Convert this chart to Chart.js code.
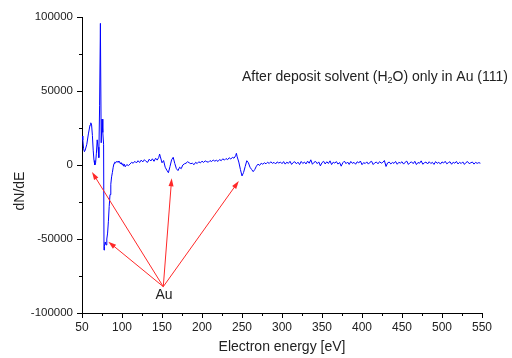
<!DOCTYPE html>
<html>
<head>
<meta charset="utf-8">
<script src="https://cdn.jsdelivr.net/npm/chart.js@4/dist/chart.umd.min.js"></script>
<style>
html, body { margin: 0; padding: 0; background: #fff; }
#wrap { width: 512px; height: 358px; }
</style>
</head>
<body>
<div id="wrap"><canvas id="chart"></canvas></div>
<script>
// Auger spectrum (eV, dN/dE)
const energy = [
  50, 51, 52, 53, 54, 56, 58, 60, 61, 62, 63, 64, 65, 66, 67, 68, 69, 70, 71, 72,
  73, 74, 75, 76, 77, 77.5, 78, 79, 80, 81, 82, 83, 84, 85, 86, 87, 88, 89, 90, 91,
  92, 93, 94, 95, 96, 97, 98, 99, 100, 101, 102, 103, 104, 106, 108,
  110, 112, 114, 116, 118, 120, 122, 124, 126, 128, 130, 132, 134, 136, 138, 140,
  142, 144, 146, 147, 148, 150, 152, 154, 156, 158, 160, 162, 164, 166, 168, 170,
  172, 174, 176, 178, 180, 182, 184, 186, 188, 190, 192, 194, 196, 198, 200,
  202, 204, 206, 208, 210, 212, 214, 216, 218, 220, 222, 224, 226, 228, 230,
  232, 234, 236, 238, 240, 242, 243, 244, 246, 248, 250, 252, 254, 256, 258, 260,
  262, 264, 266, 268,
  270, 272, 274, 276, 278, 280, 282, 284, 286, 288, 290, 292, 294, 296, 298, 300,
  302, 304, 306, 308, 310, 312, 314, 316, 318, 320, 322, 324, 326, 328, 330, 332, 334, 336, 338, 340, 342, 344, 346, 348, 350,
  352, 354, 356, 358, 360, 362, 364, 366, 368, 370, 372, 374, 376, 378, 380, 382, 384, 386, 388, 390, 392, 394, 396, 398, 400,
  402, 404, 406, 408, 410, 412, 414, 416, 418, 420, 422, 424, 426, 428, 430, 432, 434, 436, 438, 440, 442, 444, 446, 448, 450,
  452, 454, 456, 458, 460, 462, 464, 466, 468, 470, 472, 474, 476, 478, 480, 482, 484, 486, 488, 490, 492, 494, 496, 498, 500,
  502, 504, 506, 508, 510, 512, 514, 516, 518, 520, 522, 524, 526, 528, 530, 532, 534, 536, 538, 540, 542, 544, 546, 548
]
const dNdE = [
  19600, 17000, 11000, 9000, 10000, 14000, 21000, 27000, 28500, 27000, 20000, 10000, 3000, 0, 1500, 8000, 17000, 12000, 5000, 40000,
  95700, 15000, 31000, 22000, 14000, -57500, -55000, -52000, -54000, -50000, -46000, -38000, -28000, -20000, -13000, -8000, -5000, -1500, 1000, 2000,
  1500, 2400, 1800, 2600, 1900, 2200, 800, 1600, 200, 900, -800, 500, -1200, 300, -400,
  600, 1800, 1200, 2500, 1400, 2900, 1700, 3300, 2100, 3600, 2400, 1800, 3900, 2700, 4200, 2500,
  4600, 3300, 5200, 7400, 5500, 1500, 3000, -1500, -3500, -5200, -1000, 3500, 5200, 1000, -2500, -3800,
  -1500, -2500, 0, 800, 1200, 2200, 1500, 900, 1200, 200, 1800, 1000, 2200, 1400, 2600,
  1700, 2800, 2200, 1900, 3000, 2300, 3400, 2600, 3200, 2400, 3700, 2900, 4200, 3300, 4400,
  3600, 4900, 4000, 5200, 4600, 6200, 7900, 5500, 2000, -3000, -7400, -5000, -1000, 2900, 1500, -1500,
  -3000, -4500, -3000, -800,
  600, -300, 1200, 500, 1500, 800, 1900, 1000, 2200, 1100, 1800, 700, 2100, 1300, 2000, 900,
  2300, 600, 1900, 1100, 2500, 400, 1700, 2200, 800, 1900, 300, 2400, 1000, 2000, 700, 2600, 1200, 3500, 500, 1800, 2400, 900, 2100, -600, 1600,
  2500, 700, 2200, 1000, 2800, 300, 1900, 1300, 2300, 600, 1700, -800, 1500, 2600, 900, 2000, 400, 2400, 1100, 1800, 500, 2200, 1400, 2700, 200,
  1600, 1000, 2100, 600, 1900, 2500, 300, 1500, 2000, 800, 2300, 1200, 1800, 3000, -1000, 1400, 2000, 700, 1700, 1100, 2400, 500, 1800, 1300, 2200,
  600, 1900, 2600, 400, 1600, 2100, 900, 2500, 300, 1700, 1200, 2800, 500, 1500, 2000, 700, 2200, 1000, 1800, 400, 2300, 1100, 1900, 600, 2100,
  1300, 2500, 800, 1600, 2200, 500, 1900, 1200, 2400, 700, 1800, 1000, 2100, 400, 1700, 2300, 900, 1500, 2000, 600, 1800, 1100, 1600, 1200
]

const xTicks = [50, 100, 150, 200, 250, 300, 350, 400, 450, 500, 550]
const xMinor = [75, 125, 175, 225, 275, 325, 375, 425, 475, 525]
const yTicks = [-100000, -50000, 0, 50000, 100000]
const yMinor = [-75000, -25000, 25000, 75000]

// annotation anchors in data units
const auText = [152.5, -87800]
const auTail = [151.6, -82200]
const auTips = [[62.5, -4700], [82.9, -51800], [162.1, -9000], [246, -10800]]

const FONT = 'Liberation Sans, Arial, sans-serif'

const extras = {
  id: 'extras',
  afterDraw(chart) {
    const { ctx, scales: { x, y } } = chart
    ctx.save()

    // minor ticks
    ctx.strokeStyle = '#000'
    ctx.lineWidth = 1
    ctx.beginPath()
    for (const v of xMinor) {
      const px = Math.round(x.getPixelForValue(v)) + 0.5
      ctx.moveTo(px, y.bottom)
      ctx.lineTo(px, y.bottom + 3)
    }
    for (const v of yMinor) {
      const py = Math.round(y.getPixelForValue(v)) + 0.5
      ctx.moveTo(x.left, py)
      ctx.lineTo(x.left - 3, py)
    }
    ctx.stroke()

    // red arrows
    const tx = x.getPixelForValue(auTail[0])
    const ty = y.getPixelForValue(auTail[1])
    ctx.strokeStyle = 'rgb(255,40,40)'
    ctx.fillStyle = 'rgb(255,40,40)'
    for (const [ex, ey] of auTips) {
      const px = x.getPixelForValue(ex)
      const py = y.getPixelForValue(ey)
      const a = Math.atan2(py - ty, px - tx)
      ctx.beginPath()
      ctx.moveTo(tx, ty)
      ctx.lineTo(px - 5 * Math.cos(a), py - 5 * Math.sin(a))
      ctx.stroke()
      ctx.beginPath()
      ctx.moveTo(px, py)
      ctx.lineTo(px - 8 * Math.cos(a) + 2.5 * Math.sin(a), py - 8 * Math.sin(a) - 2.5 * Math.cos(a))
      ctx.lineTo(px - 8 * Math.cos(a) - 2.5 * Math.sin(a), py - 8 * Math.sin(a) + 2.5 * Math.cos(a))
      ctx.closePath()
      ctx.fill()
    }

    // texts
    ctx.fillStyle = '#222'
    ctx.textBaseline = 'middle'
    ctx.textAlign = 'center'
    ctx.font = '14px ' + FONT
    ctx.fillText('Au', x.getPixelForValue(auText[0]), y.getPixelForValue(auText[1]))

    ctx.textAlign = 'left'
    let cx = 242
    const cy = 77
    const parts = [['After deposit solvent (H', 14, 0], ['2', 9, 4], ['O) only in Au (111)', 14, 0]]
    for (const [t, s, dy] of parts) {
      ctx.font = s + 'px ' + FONT
      ctx.fillText(t, cx, cy + dy)
      cx += ctx.measureText(t).width
    }

    ctx.translate(20, 191)
    ctx.rotate(-Math.PI / 2)
    ctx.textAlign = 'center'
    ctx.font = '14px ' + FONT
    ctx.fillText('dN/dE', 0, 0)
    ctx.restore()
  }
}

new Chart(document.getElementById('chart'), {
  type: 'line',
  data: {
    datasets: [{
      data: energy.map((e, i) => ({ x: e, y: dNdE[i] })),
      borderColor: '#0000ff',
      borderWidth: 1,
      pointRadius: 0,
      tension: 0,
      fill: false,
    }],
  },
  options: {
    responsive: true,
    maintainAspectRatio: false,
    animation: false,
    layout: { padding: { top: 17, right: 30, left: 0, bottom: 0 } },
    plugins: { legend: { display: false }, tooltip: { enabled: false } },
    scales: {
      x: {
        type: 'linear',
        min: 50,
        max: 550,
        afterBuildTicks: (s) => { s.ticks = xTicks.map((v) => ({ value: v })) },
        afterFit: (s) => { s.height = 45 },
        ticks: { font: { family: FONT, size: 12 }, color: '#222', padding: 2, maxRotation: 0, autoSkip: false, callback: (v) => String(v) },
        grid: { drawOnChartArea: false, tickLength: 5, color: '#000' },
        border: { color: '#000', width: 1 },
        title: { display: true, text: 'Electron energy [eV]', font: { family: FONT, size: 14 }, color: '#222', padding: { top: 0, bottom: 2 } },
      },
      y: {
        min: -100000,
        max: 100000,
        afterBuildTicks: (s) => { s.ticks = yTicks.map((v) => ({ value: v })) },
        afterFit: (s) => { s.width = 82 },
        ticks: { font: { family: FONT, size: 11.5 }, color: '#222', padding: 4, autoSkip: false, callback: (v) => String(v) },
        grid: { drawOnChartArea: false, tickLength: 5, color: '#000' },
        border: { color: '#000', width: 1 },
      },
    },
  },
  plugins: [extras],
})
</script>
</body>
</html>
